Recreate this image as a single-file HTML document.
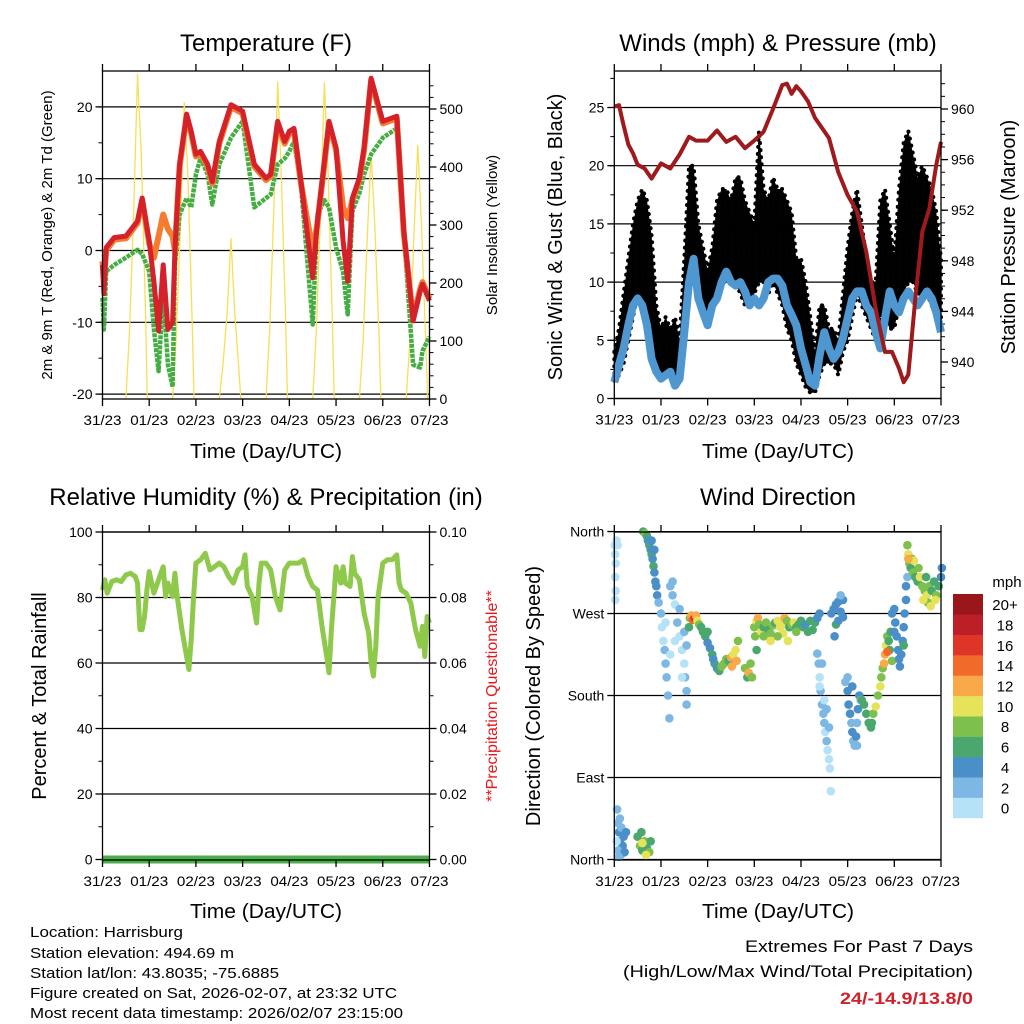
<!DOCTYPE html>
<html><head><meta charset="utf-8"><style>
body{margin:0;background:#fff}
svg{display:block;font-family:"Liberation Sans",sans-serif}
</style></head><body>
<svg id="s" width="1024" height="1024" viewBox="0 0 1024 1024" xmlns="http://www.w3.org/2000/svg">
<defs><pattern id="dots" width="6" height="6" patternUnits="userSpaceOnUse"><circle cx="3" cy="3" r="3.1" fill="#000"/><circle cx="0" cy="0" r="2" fill="#000"/><circle cx="6" cy="6" r="2" fill="#000"/><circle cx="0" cy="6" r="2" fill="#000"/><circle cx="6" cy="0" r="2" fill="#000"/></pattern></defs>
</svg>
<script>
// ---------- DATA ----------
const dayLabels=["31/23","01/23","02/23","03/23","04/23","05/23","06/23","07/23"];
const tempT=[0,.03,.08,.25,.5,.75,.85,1.0,1.1,1.2,1.3,1.4,1.5,1.55,1.65,1.8,1.9,2.0,2.1,2.25,2.35,2.5,2.75,3.0,3.25,3.5,3.6,3.75,3.9,4.0,4.1,4.25,4.5,4.6,4.75,4.85,5.0,5.15,5.25,5.35,5.5,5.6,5.75,6.0,6.3,6.45,6.65,6.8,6.85,7.0];
const tempRed=[-2,-6,0.4,1.8,2,4.1,7.3,1.3,-4.3,-11.2,-2,-11,-10,0,12,19,16.6,13.4,13.8,12,9.6,15.2,20.3,19.4,12,10.1,10.6,18,15.2,16.6,17,9.6,-3.8,4,12.4,18,14.3,1.3,-4.3,7.3,10.1,14.3,24,18,18.7,2.7,-9.8,-5.7,-4.7,-7];
const tempOrange=[-1.5,-4,0,1.5,1.7,3.8,7,1.0,-1,2,5,3,2,0,11.7,18.7,16.3,13.1,13.5,11.7,9.3,14.9,20,19.1,11.7,9.8,10.3,17.7,14.9,16.3,16.7,9.3,0,3.7,12.1,17.7,14,6,4.5,7,9.8,14,23.7,17.7,18.4,2.4,-9.5,-5.4,-4.4,-6.7];
const tempGreen=[-6.6,-11,-2.9,-2,-1,0.1,-0.5,-2.9,-11,-16.8,-5.7,-15.9,-19,-2,5,7.3,6,10.6,12.9,10.6,6.4,12,15.7,18,6,7.3,7.8,12,12.8,13.8,15.2,9,-10.3,5,7,6,0.4,-3,-8.9,5.5,8,10.6,13.4,15.7,17,2.7,-15.9,-16.3,-14,-12];
const solarT=[0.5,0.58,0.67,0.75,0.83,0.92,0.96, 1.5,1.58,1.67,1.75,1.83,1.92,1.96, 2.5,2.58,2.67,2.75,2.83,2.92,2.96, 3.5,3.58,3.67,3.75,3.83,3.92,3.96, 4.5,4.58,4.67,4.75,4.83,4.92,4.96, 5.5,5.58,5.67,5.75,5.83,5.92,5.96, 6.5,6.58,6.67,6.75,6.83,6.92,6.96];
const solarV=[0,120,330,560,420,150,0, 0,110,300,512,380,130,0, 0,60,150,277,150,50,0, 0,120,330,547,380,140,0, 0,120,330,546,390,140,0, 0,100,280,425,300,110,0, 0,100,290,438,300,100,0];
const windT=[0,.1,.2,.3,.4,.5,.6,.7,.8,.9,1,1.1,1.2,1.3,1.4,1.5,1.6,1.7,1.8,1.9,2,2.1,2.2,2.3,2.4,2.5,2.6,2.7,2.8,2.9,3,3.1,3.2,3.3,3.4,3.5,3.6,3.7,3.8,3.9,4,4.1,4.2,4.3,4.4,4.5,4.6,4.7,4.8,4.9,5,5.1,5.2,5.3,5.4,5.5,5.6,5.7,5.8,5.9,6,6.1,6.2,6.3,6.4,6.5,6.6,6.7,6.8,6.9,7];
const windSpd=[1.4,2.9,4.3,6.3,8,8.6,8,6.3,3.4,2.3,1.7,2,2.3,1.1,1.7,5.7,10,12,8.6,7.4,6.3,8,8.6,10,10.9,10,9.7,10,9.2,8,8.6,8,8.6,10,10.3,10.3,9.7,8,7.2,6.3,4.3,2.9,1.4,1.1,3.7,5.7,4.3,3.4,4,5.2,6.9,8.6,9.2,9.2,8,7.4,5.7,4.3,6.9,9.2,8,7.4,8.6,9.2,8.6,8,8.6,9.2,8.6,7.4,5.7];
const gustHi=[4,6,9,12,15,17,18,17,14,8,6,7,6,7,5,12,20,20,15,13,11,13,17,18,18,17,19,19,17,16,15,23,18,17,19,18,18,17,16,12,12,10,7,4,8,8,6,6,5,9,13,16,18,15,12,10,10,17,18,15,12,18,22,23,21,19,20,19,18,16,12];
const gustLo=[1.5,2,3,5,7,9,8,7,4,3,2,2,2,1.5,1.5,5,10,10,9,7,7,8,9,10,10,10,10,9,8,8,9,10,10,9,10,9,8,6,5,3,2,1,0.5,0.5,2,3,3,3,2,4,5,7,9,8,7,6,5,7,7,6,6,8,9,10,10,9,9,9,8,7,6];
const presT=[0,.1,.2,.3,.4,.5,.65,.8,1,1.2,1.4,1.6,1.75,2,2.2,2.4,2.6,2.8,3,3.2,3.4,3.6,3.7,3.8,3.9,4,4.15,4.3,4.45,4.6,4.8,5,5.2,5.4,5.6,5.8,5.95,6.1,6.2,6.3,6.45,6.6,6.75,6.9,7];
const presV=[960.2,960.3,958.7,957.2,956.5,955.6,955.3,954.5,955.7,955.3,956.4,957.8,957.5,957.5,958.3,957.4,957.8,956.9,957.5,958.2,960,961.9,962,961.2,961.8,961.4,960.6,959.3,958.5,957.7,955,953.2,951.9,948.7,944.2,940.8,940.8,939.5,938.4,939,945,950.3,952.1,955.6,957.4];
const rhT=[0,.05,.1,.2,.3,.4,.5,.6,.7,.75,.8,.85,.9,.95,1,1.1,1.2,1.3,1.35,1.4,1.5,1.55,1.6,1.7,1.8,1.85,1.9,1.95,2,2.1,2.2,2.3,2.4,2.5,2.6,2.7,2.8,2.9,3,3.05,3.1,3.2,3.3,3.35,3.4,3.5,3.6,3.7,3.8,3.9,4,4.1,4.2,4.3,4.4,4.5,4.6,4.7,4.8,4.85,4.9,5,5.1,5.15,5.2,5.3,5.35,5.4,5.5,5.6,5.7,5.75,5.8,5.85,5.9,6,6.1,6.2,6.3,6.35,6.4,6.5,6.6,6.7,6.8,6.85,6.9,6.95,7];
const rhV=[82.3,85.4,81.3,84.9,85.4,84.9,86.9,87.4,86.4,84.4,70.2,70.2,74.2,82.3,87.9,81.3,85.4,89.4,80.3,84.4,80.3,87.4,80.3,70.2,62,58,67.1,80.3,90.5,91.5,93.5,88.4,89.4,90.5,89.4,86.4,84.4,88.4,89.4,93,83.4,80.3,72.2,84.4,90.5,90.5,88.4,80.3,76.2,88.4,90.5,90.5,90.5,91.5,86.4,83.4,82.3,71.2,62,57,70.2,89.4,84.4,89.4,84.4,83.4,92.5,87.4,85.4,75.2,69.1,60,56,65.1,80.3,90.5,91.5,91.5,93,84.4,82.3,81.3,78.3,70.2,65.1,71.2,62,74.2,72.2];
const precipT=[0,7];
const precipV=[0,0];
const dirT=[0.01,0.02,0.03,0.02,0.03,0.02,0.05,0.07, 0.06,0.08,0.1,0.12,0.15,0.18,0.2,0.08,0.14,0.22,0.25,0.12,0.05,0.1,0.5,0.55,0.6,0.65,0.7,0.75,0.58,0.68,0.78,0.6, 0.62,0.66,0.7,0.72,0.75,0.78,0.8,0.82,0.84,0.86,0.88,0.9,0.92,0.95,0.86,0.8, 1.0,1.02,1.05,1.08,1.1,1.12,1.15,1.18,1.2,1.25,1.3,1.35,1.4,1.45,1.5,1.52,1.55,1.25,1.3,1.4,1.5,1.55,1.1,1.2,1.45,1.55, 1.62,1.65,1.68,1.72,1.75,1.78,1.82,1.6,1.86,1.9, 1.95,2.0,2.05,2.1,2.15,2.2,2.25,2.3,2.0,2.12, 2.35,2.4,2.45,2.5,2.55,2.6,2.62,2.52,2.65, 2.8,2.85,2.88,2.92,2.95,3.0,3.02,3.05, 3.05,3.08,3.1,3.15,3.2,3.25,3.3,3.35,3.4,3.45,3.5,3.55,3.6,3.62,3.65,3.7,3.75,3.8,3.85,3.9,3.95,4.0,4.05,4.1,4.15,4.2,4.25,4.3,4.35,3.72,3.5,3.35,3.9,3.2,4.4, 4.35,4.38,4.4,4.42,4.45,4.48,4.5,4.52,4.55,4.57,4.6,4.62,4.64,4.4,4.5,4.6,4.55,4.45, 4.65,4.7,4.75,4.8,4.85,4.9,4.75,4.72,4.8,4.9,4.85, 4.95,5.0,5.02,5.05,5.08,5.1,5.12,5.15,5.18,5.2,5.22,5.25,5.28,5.0,5.1,5.2, 5.3,5.35,5.4,5.45,5.5,5.52,5.55,5.6,5.65,5.7,5.72, 5.75,5.78,5.8,5.82,5.85,5.88,5.9,5.95,5.85,5.92, 5.95,6.0,6.02,6.05,6.08,6.1,6.12,6.15,6.18,6.2,6.22,6.25,6.25,6.28,6.2,6.0, 6.28,6.3,6.32,6.35,6.38,6.4,6.45,6.5,6.52,6.55,6.6,6.65,6.7,6.72,6.75,6.8,6.85,6.9,6.95,7.0,7.02,6.62,6.78,6.42,6.68,6.88,6.3];
const dirV=[345,335,325,310,295,285,350,345, 55,40,30,20,35,15,25,10,5,8,30,45,20,3,25,15,10,20,12,8,30,5,20,18, 360,358,355,350,345,340,335,330,322,315,305,300,290,282,340,350, 270,255,240,230,215,200,180,155,300,290,280,260,245,230,215,200,170,305,240,275,250,235,260,225,200,185, 265,268,263,265,268,262,258,255,255,250, 245,238,232,225,215,210,207,212,250,220, 215,220,218,222,225,230,218,212,240, 210,200,205,215,200,255,245,230, 262,265,258,250,255,260,252,248,257,260,262,255,258,248,265,262,255,258,260,255,258,262,255,258,250,262,252,260,265,240,245,240,250,245,270, 226,215,200,185,170,160,150,140,130,120,110,100,75,190,175,145,165,215, 270,275,280,283,272,266,258,245,262,285,290, 195,185,170,160,150,140,130,125,135,150,165,180,175,200,190,125, 175,170,160,150,145,150,160,168,180,190,200, 210,215,225,235,245,240,230,218,228,250, 270,275,260,245,230,220,212,225,240,255,270,285,300,310,235,250, 345,335,325,320,330,315,310,305,320,310,300,295,290,282,300,295,305,290,300,310,320,285,278,328,310,285,330];
const dirS=[1,0,1,1,1,1,1,0, 3,2,4,4,3,4,4,2,3,4,4,3,1,3,7,8,7,9,7,8,6,10,6,10, 7,8,6,5,7,4,6,4,6,4,4,5,4,3,5,4, 2,1,1,2,2,2,2,2,2,2,1,2,1,1,0,2,3,3,0,3,2,3,1,1,1,2, 9,12,14,16,12,10,8,6,6,7, 6,5,4,6,6,4,7,8,7,4, 8,8,7,12,10,11,12,12,8, 8,6,12,9,8,8,8,7, 10,12,8,10,7,8,6,8,9,7,10,11,10,10,12,8,7,9,10,6,7,7,6,5,6,7,6,6,5,10,8,10,9,8,4, 2,2,1,2,2,2,2,1,2,1,0,0,1,0,1,2,3,3, 4,4,5,4,4,5,6,4,4,4,3, 3,4,4,4,3,4,3,3,4,3,4,4,3,2,4,3, 6,6,7,6,7,6,8,10,8,10,9, 8,12,12,10,8,6,7,8,14,6, 4,4,4,4,4,4,4,5,4,4,4,4,4,3,6,4, 8,10,8,6,8,9,7,6,8,10,9,8,10,9,8,6,7,8,6,5,4,10,10,11,7,10,12];
const cbarColors=["#b6e2f8","#7db8e4","#4a8fc7","#4aa86e","#7ec04d","#e6e25a","#f9a94a","#f26a2a","#df3428","#bd1f26","#99161b"];
const cbarLabels=["0","2","4","6","8","10","12","14","16","18","20+"];

// ---------- HELPERS ----------
const S=document.getElementById('s');const NS="http://www.w3.org/2000/svg";
function mk(tag,at,parent){const e=document.createElementNS(NS,tag);for(const k in at)e.setAttribute(k,at[k]);(parent||S).appendChild(e);return e;}
function txt(x,y,s,at,parent){const e=mk('text',Object.assign({x:x,y:y,'font-size':14,fill:'#000'},at||{}),parent);e.textContent=s;return e;}
function pts(T,V,fx,fy){return T.map((t,i)=>fx(t).toFixed(1)+','+fy(V[i]).toFixed(1)).join(' ');}

function axes(P,name){
  const g=mk('g',{});
  
  
  for(let d=0;d<=7;d++){const x=P.x0+d*P.dw;
    mk('line',{x1:x,x2:x,y1:P.y1,y2:P.y1+7,stroke:'#000','stroke-width':1.3},g);
    mk('line',{x1:x,x2:x,y1:P.y0,y2:P.y0-7,stroke:'#000','stroke-width':1.3},g);
    const t=txt(x,P.y1+26,dayLabels[d],{'text-anchor':'middle','font-size':14,textLength:38,lengthAdjust:'spacingAndGlyphs'},g);
    
    
  }
  mk('rect',{x:P.x0,y:P.y0,width:P.x1-P.x0,height:P.y1-P.y0,fill:'none',stroke:'#000','stroke-width':1.3},g);
}
function yTicks(P,side,vals,fy,labels,minor,grid){
  const xs=side==='l'?P.x0:P.x1, dir=side==='l'?-1:1;
  minor.forEach(v=>{const y=fy(v);mk('line',{x1:xs,x2:xs+dir*4,y1:y,y2:y,stroke:'#000','stroke-width':1});});
  vals.forEach((v,i)=>{const y=fy(v);
    mk('line',{x1:xs,x2:xs+dir*7,y1:y,y2:y,stroke:'#000','stroke-width':1.3});
    if(grid)mk('line',{x1:P.x0,x2:P.x1,y1:y,y2:y,stroke:'#000','stroke-width':1.2});
    const t=txt(xs+dir*10,y+5,labels[i],{'text-anchor':side==='l'?'end':'start','font-size':14});
    
    
  });
}
function range(a,b,s){const r=[];for(let v=a;v<=b+1e-9;v+=s)r.push(+v.toFixed(4));return r;}
function vtitle(x,y,s,fs,fill,name){const t=txt(x,y,s,{'text-anchor':'middle','font-size':fs,fill:fill||'#000',transform:'rotate(-90 '+x+' '+y+')'});
  }
function title(x,y,s,name){const t=txt(x,y,s,{'text-anchor':'middle','font-size':24});}

// ---------- PANEL 1: TEMPERATURE ----------
const P1={x0:102.5,x1:429.5,y0:71,y1:399,dw:46.71};
const xT1=d=>P1.x0+d*P1.dw, yTemp=v=>250.5-v*7.18, ySol=v=>399-v*0.58;
yTicks(P1,'l',[-20,-10,0,10,20],yTemp,["-20","-10","0","10","20"],range(-20,20,5),true);
yTicks(P1,'r',[0,100,200,300,400,500],ySol,["0","100","200","300","400","500"],range(0,540,20),false);
let e=mk('polyline',{points:pts(solarT,solarV,xT1,ySol),fill:'none',stroke:'#f7df55','stroke-width':1.3});


e=mk('polyline',{points:pts(tempT,tempGreen,xT1,yTemp),fill:'none',stroke:'#45ad43','stroke-width':4.5,'stroke-linejoin':'round','stroke-dasharray':'4 1'});


e=mk('polyline',{points:pts(tempT,tempOrange,xT1,yTemp),fill:'none',stroke:'#f57c2e','stroke-width':6,'stroke-linejoin':'round'});


e=mk('polyline',{points:pts(tempT,tempRed,xT1,yTemp),fill:'none',stroke:'#d4212a','stroke-width':5,'stroke-linejoin':'round'});


axes(P1,'temperature');
title(266,51,"Temperature (F)",'temperature-title');
vtitle(52,235,"2m & 9m T (Red, Orange) & 2m Td (Green)",15,'#000','temperature-y-title');
vtitle(497,235,"Solar Insolation (Yellow)",15,'#000','solar-y-title');
let t=txt(266,458,"Time (Day/UTC)",{'text-anchor':'middle','font-size':20,textLength:152,lengthAdjust:'spacingAndGlyphs'});

// ---------- PANEL 2: WINDS ----------
const P2={x0:614.3,x1:941,y0:71,y1:398.5,dw:46.67};
const xT2=d=>P2.x0+d*P2.dw, yW=v=>398.5-v*11.64, yP=p=>109+(960-p)*12.65;
yTicks(P2,'l',[0,5,10,15,20,25],yW,["0","5","10","15","20","25"],range(0,27.5,2.5),true);
yTicks(P2,'r',[940,944,948,952,956,960],yP,["940","944","948","952","956","960"],range(938,962,1),false);
const gp=windT.map((d,i)=>xT2(d).toFixed(1)+','+yW(gustHi[i]).toFixed(1)).concat(windT.map((d,i)=>xT2(d).toFixed(1)+','+yW(gustLo[i]).toFixed(1)).reverse()).join(' ');
e=mk('polygon',{points:gp,fill:'url(#dots)',stroke:'#000','stroke-width':4,'stroke-dasharray':'0.1 7','stroke-linecap':'round','stroke-linejoin':'round'});


e=mk('polyline',{points:pts(windT,windSpd,xT2,yW),fill:'none',stroke:'#4f97d1','stroke-width':8,'stroke-linejoin':'round'});


e=mk('polyline',{points:pts(presT,presV,xT2,yP),fill:'none',stroke:'#9e1a1d','stroke-width':4,'stroke-linejoin':'round'});


axes(P2,'winds');
title(778,51,"Winds (mph) & Pressure (mb)",'winds-title');
vtitle(562,237,"Sonic Wind & Gust (Blue, Black)",20,'#000','wind-y-title');
vtitle(1015,237,"Station Pressure (Maroon)",20,'#000','pressure-y-title');
t=txt(778,458,"Time (Day/UTC)",{'text-anchor':'middle','font-size':20,textLength:152,lengthAdjust:'spacingAndGlyphs'});

// ---------- PANEL 3: RH ----------
const P3={x0:102.5,x1:429.5,y0:532,y1:860,dw:46.71};
const xT3=d=>P3.x0+d*P3.dw, yR=v=>859.5-v*3.275, yPr=v=>859.5-v*3275;
yTicks(P3,'l',[0,20,40,60,80,100],yR,["0","20","40","60","80","100"],range(0,100,10),true);
yTicks(P3,'r',[0,0.02,0.04,0.06,0.08,0.1],yPr,["0.00","0.02","0.04","0.06","0.08","0.10"],range(0,0.1,0.01),false);
e=mk('polyline',{points:pts(rhT,rhV,xT3,yR),fill:'none',stroke:'#8ec94b','stroke-width':5,'stroke-linejoin':'round'});


e=mk('polyline',{points:pts(precipT,precipV,xT3,yPr),fill:'none',stroke:'#4cae4a','stroke-width':8});


axes(P3,'humidity');
title(266,505,"Relative Humidity (%) & Precipitation (in)",'humidity-title');
vtitle(46,696,"Percent & Total Rainfall",20,'#000','humidity-y-title');
vtitle(497,696,"**Precipitation Questionable**",16,'#e8161b','precip-y-title');
t=txt(266,918,"Time (Day/UTC)",{'text-anchor':'middle','font-size':20,textLength:152,lengthAdjust:'spacingAndGlyphs'});

// ---------- PANEL 4: WIND DIRECTION ----------
const P4={x0:614.3,x1:941,y0:532,y1:860,dw:46.67};
const xT4=d=>P4.x0+d*P4.dw, yD=v=>859.5-v*0.911;
yTicks(P4,'l',[0,90,180,270,360],yD,["North","East","South","West","North"],[],true);
dirT.forEach((d,i)=>{
  const c=mk('circle',{cx:xT4(d).toFixed(1),cy:yD(dirV[i]).toFixed(1),r:4.3,fill:cbarColors[Math.min(10,Math.floor(dirS[i]/2))]});
  
  
});
axes(P4,'wind-direction');
title(778,505,"Wind Direction",'wind-direction-title');
vtitle(540,696,"Direction (Colored By Speed)",20,'#000','direction-y-title');
t=txt(778,918,"Time (Day/UTC)",{'text-anchor':'middle','font-size':20,textLength:152,lengthAdjust:'spacingAndGlyphs'});
const cb=mk('g',{});


cbarColors.forEach((c,i)=>{const y=818-(i+1)*20.36;
  mk('rect',{x:953,y:y.toFixed(1),width:30,height:20.6,fill:c},cb);
  const l=txt(1005,y+16,cbarLabels[i],{'text-anchor':'middle','font-size':15},cb);
  
});
t=txt(1007,587,"mph",{'text-anchor':'middle','font-size':15});
</script>
<svg width="1024" height="1024" style="position:absolute;left:0;top:0" font-family="Liberation Sans, sans-serif">
<text x="30" y="937" font-size="15" textLength="153" lengthAdjust="spacingAndGlyphs">Location: Harrisburg</text>
<text x="30" y="958" font-size="15" textLength="204" lengthAdjust="spacingAndGlyphs">Station elevation: 494.69 m</text>
<text x="30" y="978" font-size="15" textLength="249" lengthAdjust="spacingAndGlyphs">Station lat/lon: 43.8035; -75.6885</text>
<text x="30" y="998" font-size="15" textLength="367" lengthAdjust="spacingAndGlyphs">Figure created on Sat, 2026-02-07, at 23:32 UTC</text>
<text x="30" y="1018" font-size="15" textLength="373" lengthAdjust="spacingAndGlyphs">Most recent data timestamp: 2026/02/07 23:15:00</text>
<text x="745" y="952" font-size="17" textLength="228" lengthAdjust="spacingAndGlyphs">Extremes For Past 7 Days</text>
<text x="623" y="977" font-size="17" textLength="350" lengthAdjust="spacingAndGlyphs">(High/Low/Max Wind/Total Precipitation)</text>
<text x="840" y="1004" font-size="17" font-weight="bold" fill="#d0202a" textLength="133" lengthAdjust="spacingAndGlyphs">24/-14.9/13.8/0</text>
</svg>
</body></html>
